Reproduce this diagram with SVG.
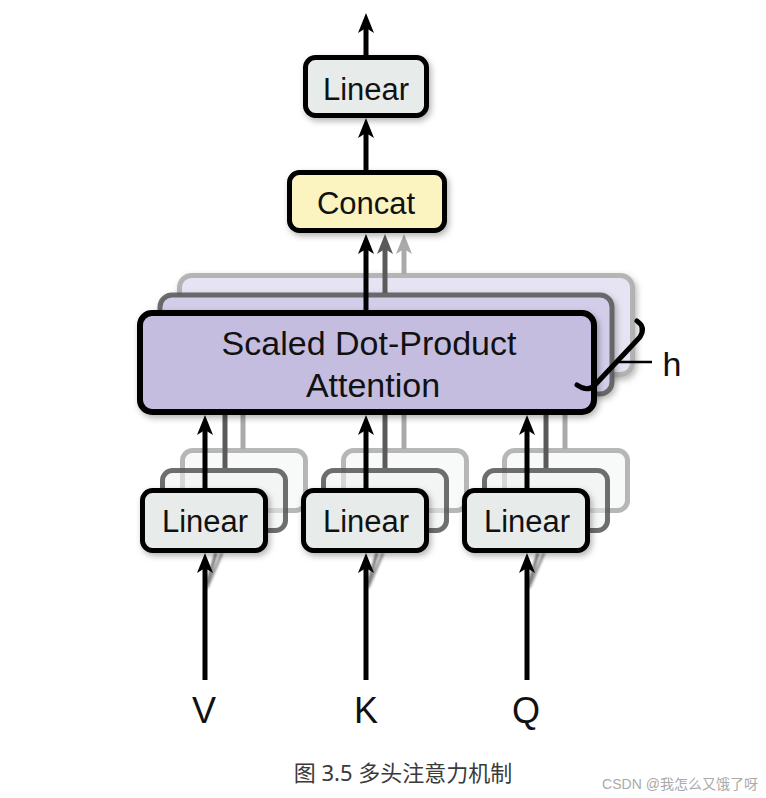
<svg xmlns="http://www.w3.org/2000/svg" width="766" height="798" viewBox="0 0 766 798">
  <style>
    .lbl { font-family: "Liberation Sans", Arial, sans-serif; fill: #111; text-anchor: middle; }
    .box { font-size: 31px; }
    .att { font-size: 34px; }
    .big { font-size: 36px; }
    .front { stroke: #000; stroke-width: 5; }
    .lin { fill: #e7ecea; }
    .mid { stroke: #555; stroke-width: 5; stroke-opacity: 0.85; }
    .back { stroke: #aaa; stroke-width: 5; stroke-opacity: 0.85; }
    .linmid { fill: #eef1f0; fill-opacity: 0.55; }
    .linback { fill: #f2f4f3; fill-opacity: 0.5; }
    .k { stroke: #000; stroke-width: 5; fill: none; }
    .g1 { stroke: #5a5a5a; stroke-width: 5; fill: none; }
    .g2 { stroke: #aaa; stroke-width: 5; fill: none; }
  </style>
  <defs>
    <marker id="ak" viewBox="0 0 20 16" refX="9" refY="8" markerWidth="20" markerHeight="16" markerUnits="userSpaceOnUse" orient="auto">
      <path d="M0,0 L20,8 L0,16 L5,8 Z" fill="#000"/>
    </marker>
    <marker id="a1" viewBox="0 0 20 16" refX="9" refY="8" markerWidth="20" markerHeight="16" markerUnits="userSpaceOnUse" orient="auto">
      <path d="M0,0 L20,8 L0,16 L5,8 Z" fill="#5a5a5a"/>
    </marker>
    <marker id="a2" viewBox="0 0 20 16" refX="9" refY="8" markerWidth="20" markerHeight="16" markerUnits="userSpaceOnUse" orient="auto">
      <path d="M0,0 L20,8 L0,16 L5,8 Z" fill="#aaa"/>
    </marker>
    <filter id="sh" x="-10%" y="-10%" width="130%" height="140%">
      <feDropShadow dx="2" dy="3" stdDeviation="3" flood-color="#000" flood-opacity="0.3"/>
    </filter>
    <filter id="blur" x="-50%" y="-10%" width="200%" height="120%">
      <feGaussianBlur stdDeviation="1.2"/>
    </filter>
  </defs>

  <!-- back layers of attention -->
  <g id="attention-back">
    <rect x="179.5" y="275.5" width="453" height="99" rx="12" fill="#e6e3f2" class="back" filter="url(#sh)"/>
  </g>
  <g id="attention-mid">
    <rect x="160" y="295" width="452" height="99" rx="12" fill="#d3cdea" class="mid" filter="url(#sh)"/>
  </g>

  <!-- back layers of linear boxes -->
  <g id="linear-v-back"><rect x="182.5" y="450.5" width="123" height="60" rx="10" class="linback back"/></g>
  <g id="linear-k-back"><rect x="343.5" y="450.5" width="123" height="60" rx="10" class="linback back"/></g>
  <g id="linear-q-back"><rect x="504.5" y="450.5" width="123" height="60" rx="10" class="linback back"/></g>
  <g id="linear-v-mid"><rect x="162.5" y="470.5" width="123" height="60" rx="10" class="linmid mid"/></g>
  <g id="linear-k-mid"><rect x="323.5" y="470.5" width="123" height="60" rx="10" class="linmid mid"/></g>
  <g id="linear-q-mid"><rect x="484.5" y="470.5" width="123" height="60" rx="10" class="linmid mid"/></g>

  <g id="connectors">
    <!-- output -->
    <line x1="366" y1="56" x2="366" y2="24" class="k" marker-end="url(#ak)"/>
    <line x1="366" y1="171" x2="366" y2="129" class="k" marker-end="url(#ak)"/>
    <!-- heads to concat -->
    <line x1="404" y1="274" x2="404" y2="245" class="g2" marker-end="url(#a2)"/>
    <line x1="385" y1="293" x2="385" y2="245" class="g1" marker-end="url(#a1)"/>
    <line x1="366" y1="311" x2="366" y2="245" class="k" marker-end="url(#ak)"/>
    <!-- linear to attention (back copies) -->
    <line x1="243" y1="449" x2="243" y2="400" class="g2"/>
    <line x1="225" y1="468" x2="225" y2="400" class="g1"/>
    <line x1="404" y1="449" x2="404" y2="400" class="g2"/>
    <line x1="385" y1="468" x2="385" y2="400" class="g1"/>
    <line x1="565" y1="449" x2="565" y2="400" class="g2"/>
    <line x1="546" y1="468" x2="546" y2="400" class="g1"/>
    <!-- inputs to back copies -->
    <g filter="url(#blur)">
      <line x1="207" y1="588" x2="222" y2="553" stroke="#999" stroke-width="3"/>
      <line x1="207" y1="584" x2="216" y2="553" stroke="#777" stroke-width="3"/>
      <line x1="368" y1="588" x2="383" y2="553" stroke="#999" stroke-width="3"/>
      <line x1="368" y1="584" x2="377" y2="553" stroke="#777" stroke-width="3"/>
      <line x1="529" y1="588" x2="544" y2="553" stroke="#999" stroke-width="3"/>
      <line x1="529" y1="584" x2="538" y2="553" stroke="#777" stroke-width="3"/>
    </g>
  </g>

  <g id="attention">
    <rect x="140" y="313" width="454" height="99" rx="12" fill="#c5bddf" stroke="#000" stroke-width="6" filter="url(#sh)"/>
    <text class="lbl att" x="369" y="355">Scaled Dot-Product</text>
    <text class="lbl att" x="373" y="397">Attention</text>
  </g>

  <g id="brace">
    <path d="M637,321 Q646,327 640,337 L594,386 Q587,392 577,385" fill="none" stroke="#000" stroke-width="5" stroke-linecap="round" stroke-linejoin="round"/>
    <line x1="618" y1="362" x2="652" y2="362" stroke="#000" stroke-width="2.5"/>
    <text class="lbl att" x="672" y="376">h</text>
  </g>

  <g id="connectors-front">
    <line x1="205" y1="489" x2="205" y2="426" class="k" marker-end="url(#ak)"/>
    <line x1="366" y1="489" x2="366" y2="426" class="k" marker-end="url(#ak)"/>
    <line x1="527" y1="489" x2="527" y2="426" class="k" marker-end="url(#ak)"/>
    <line x1="205" y1="680" x2="205" y2="564" class="k" marker-end="url(#ak)"/>
    <line x1="366" y1="680" x2="366" y2="564" class="k" marker-end="url(#ak)"/>
    <line x1="527" y1="680" x2="527" y2="564" class="k" marker-end="url(#ak)"/>
  </g>

  <g id="linear-v">
    <rect x="142.5" y="490.5" width="123" height="60" rx="10" class="lin front" filter="url(#sh)"/>
    <text class="lbl box" x="205" y="532">Linear</text>
  </g>
  <g id="linear-k">
    <rect x="303.5" y="490.5" width="123" height="60" rx="10" class="lin front" filter="url(#sh)"/>
    <text class="lbl box" x="366" y="532">Linear</text>
  </g>
  <g id="linear-q">
    <rect x="464.5" y="490.5" width="123" height="60" rx="10" class="lin front" filter="url(#sh)"/>
    <text class="lbl box" x="527" y="532">Linear</text>
  </g>

  <g id="concat">
    <rect x="289.5" y="172.5" width="155" height="58" rx="10" fill="#fbf4c0" class="front" filter="url(#sh)"/>
    <text class="lbl box" x="366" y="214">Concat</text>
  </g>
  <g id="linear-out">
    <rect x="305.5" y="57.5" width="121" height="58" rx="10" class="lin front" filter="url(#sh)"/>
    <text class="lbl box" x="366" y="100">Linear</text>
  </g>

  <g id="inputs">
    <text class="lbl big" x="204" y="723">V</text>
    <text class="lbl big" x="366" y="723">K</text>
    <text class="lbl big" x="526" y="723">Q</text>
  </g>

  <text x="403" y="781" font-family="'Noto Sans', 'Noto Sans CJK SC', sans-serif" font-size="22" fill="#3a3a3a" text-anchor="middle">图 3.5 多头注意力机制</text>
  <text x="680" y="789" font-family="'Liberation Sans', 'Noto Sans CJK SC', sans-serif" font-size="14" fill="#aaa" text-anchor="middle">CSDN @我怎么又饿了呀</text>
</svg>
